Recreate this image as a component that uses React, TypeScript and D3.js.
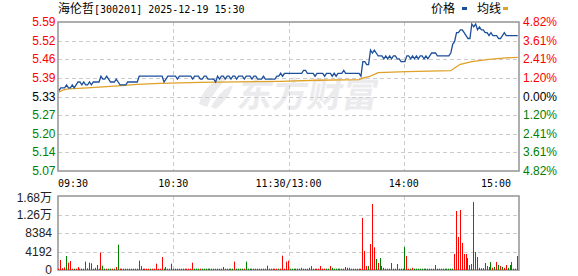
import React from 'react';
import * as d3 from 'd3';

const W = 578;
const H = 276;

// ---- data ----
const stockName = '海伦哲';
const stockCode = '[300201]';
const stamp = ' 2025-12-19 15:30';
const prevClose = 5.33;
const maxPct = 0.0482;

const priceTicks = ['5.59', '5.52', '5.46', '5.39', '5.33', '5.27', '5.20', '5.14', '5.07'];
const pctTicks = ['4.82%', '3.61%', '2.41%', '1.20%', '0.00%', '1.20%', '2.41%', '3.61%', '4.82%'];
const volTicks = ['1.68万', '1.26万', '8384', '4192', '0'];
const volMax = 16768;
const timeLabels = ['09:30', '10:30', '11:30/13:00', '14:00', '15:00'];

// minute prices 09:30..11:30 (0..120), 13:01..15:00 (121..240)
const prices = [
  5.35, 5.36, 5.36, 5.36, 5.37, 5.36, 5.36, 5.37, 5.36, 5.37,
  5.38, 5.38, 5.37, 5.38, 5.37, 5.37, 5.38, 5.37, 5.38, 5.38,
  5.38, 5.38, 5.40, 5.39, 5.39, 5.40, 5.39, 5.38, 5.38, 5.38,
  5.39, 5.38, 5.37, 5.37, 5.37, 5.37, 5.38, 5.38, 5.38, 5.38,
  5.38, 5.38, 5.40, 5.40, 5.40, 5.40, 5.40, 5.40, 5.40, 5.40,
  5.40, 5.40, 5.40, 5.40, 5.40, 5.38, 5.39, 5.40, 5.40, 5.40,
  5.40, 5.40, 5.39, 5.40, 5.40, 5.40, 5.40, 5.40, 5.40, 5.40,
  5.39, 5.40, 5.40, 5.40, 5.39, 5.39, 5.40, 5.40, 5.39, 5.39,
  5.39, 5.39, 5.38, 5.40, 5.39, 5.40, 5.40, 5.39, 5.40, 5.40,
  5.39, 5.40, 5.40, 5.39, 5.40, 5.40, 5.40, 5.39, 5.40, 5.40,
  5.40, 5.39, 5.40, 5.40, 5.39, 5.39, 5.39, 5.40, 5.39, 5.39,
  5.39, 5.39, 5.39, 5.39, 5.40, 5.40, 5.41, 5.40, 5.41, 5.41,
  5.41, 5.41, 5.41, 5.41, 5.41, 5.41, 5.41, 5.41, 5.42, 5.42,
  5.41, 5.41, 5.41, 5.41, 5.40, 5.41, 5.41, 5.41, 5.41, 5.40,
  5.41, 5.41, 5.41, 5.40, 5.41, 5.40, 5.41, 5.41, 5.41, 5.42,
  5.41, 5.41, 5.41, 5.41, 5.41, 5.41, 5.41, 5.41, 5.40, 5.45,
  5.45, 5.44, 5.44, 5.49, 5.48, 5.49, 5.48, 5.47, 5.47, 5.47,
  5.46, 5.47, 5.46, 5.47, 5.46, 5.47, 5.47, 5.46, 5.46, 5.45,
  5.45, 5.45, 5.47, 5.47, 5.46, 5.47, 5.46, 5.47, 5.46, 5.47,
  5.47, 5.46, 5.47, 5.46, 5.47, 5.48, 5.48, 5.48, 5.47, 5.47,
  5.47, 5.47, 5.47, 5.47, 5.47, 5.48, 5.51, 5.52, 5.55, 5.55,
  5.56, 5.56, 5.55, 5.54, 5.53, 5.53, 5.58, 5.57, 5.58, 5.56,
  5.57, 5.56, 5.56, 5.55, 5.55, 5.54, 5.55, 5.54, 5.54, 5.54,
  5.53, 5.53, 5.54, 5.55, 5.54, 5.54, 5.54, 5.54, 5.54, 5.54,
  5.54,
];

// average price line: minute index and value
const avgIdx = [0, 2, 5, 15, 29, 41, 53, 74, 116, 135, 157, 159, 163, 167, 182, 205, 207, 210, 216, 225, 234, 240];
const avgVal = [5.345, 5.352, 5.356, 5.36, 5.366, 5.372, 5.375, 5.379, 5.382, 5.386, 5.388, 5.393, 5.4, 5.412, 5.416, 5.419, 5.428, 5.441, 5.45, 5.458, 5.463, 5.465];

const volumes = [
  300, 2270, 400, 600, 3170, 1660, 2040, 300, 300, 300,
  680, 300, 300, 300, 1890, 400, 1660, 1510, 300, 500,
  1130, 300, 3930, 980, 300, 300, 300, 300, 300, 300,
  680, 5740, 300, 300, 300, 300, 300, 300, 300, 300,
  300, 300, 2115, 900, 300, 300, 300, 300, 300, 300,
  300, 1435, 300, 300, 2945, 300, 680, 300, 300, 1435,
  300, 300, 300, 300, 300, 300, 300, 300, 300, 300,
  1660, 300, 300, 300, 300, 300, 300, 300, 300, 300,
  300, 300, 300, 300, 300, 300, 680, 300, 300, 300,
  300, 300, 1890, 300, 300, 300, 300, 300, 1890, 300,
  300, 300, 300, 300, 300, 300, 300, 300, 300, 980,
  300, 300, 300, 300, 300, 300, 300, 3250, 300, 1900,
  2115, 300, 300, 300, 300, 300, 300, 500, 300, 300,
  300, 500, 900, 300, 300, 300, 300, 900, 300, 300,
  300, 300, 900, 500, 300, 300, 300, 300, 300, 300,
  680, 500, 500, 300, 300, 300, 300, 300, 300, 11780,
  4300, 900, 900, 5890, 14950, 5140, 2490, 1590, 2720, 900,
  500, 300, 300, 300, 1590, 300, 300, 1360, 300, 300,
  300, 5210, 3170, 300, 300, 500, 300, 300, 300, 300,
  300, 300, 300, 300, 300, 300, 300, 1130, 300, 300,
  300, 300, 300, 300, 300, 300, 300, 3630, 13370, 7480,
  13600, 6120, 3630, 3630, 2720, 1130, 1360, 15400, 4080, 2950,
  500, 400, 400, 1590, 900, 680, 1810, 500, 680, 1810,
  1130, 900, 680, 500, 1130, 500, 1130, 1810, 300, 300,
  3170,
];
// r = up tick, g = down tick
const volDir =
  'rrrrgrrrgr' + 'rgggrrggrr' + 'rgrggrggrg' + 'rgrrgrrgrr' + 'rrrgrrrrgr' +
  'rrrrrgrrrg' + 'grrrrrrrrr' + 'rgggrggggrg'.slice(0, 10) + 'ggrrggrggg' + 'ggrggggrgg' +
  'gggggggggr' + 'rrrrrgrrrr' + 'rggggggrrr' + 'rgrrrrrrrr' + 'ggrgggggrr' +
  'rgrrrrrrrr' + 'rrgrrrgrgr' + 'rgggrgrrrg' + 'ggrrgrgggg' + 'gggggggrgg' +
  'gggggggrrr' + 'rrrrggrrgr' + 'grrggrgrgr' + 'grgrrggrrg' + 'r';

// ---- layout ----
const L = 58;
const R = 519;
const mainTop = 22;
const mainBot = 171;
const volTop = 196;
const volBot = 270;

const RED = '#ff0000';
const GREEN = '#008000';
const BLUE = '#1b4f9c';
const GOLD = '#dfa126';
const GRID = '#cccccc';
const BORDER = '#9a9a9a';
const NUM_FONT = '"Liberation Sans", Arial, "Noto Sans CJK SC", sans-serif';
const CJK_FONT = '"Noto Sans CJK SC", "Liberation Sans", sans-serif';
const MONO_FONT = '"DejaVu Sans Mono", "Liberation Mono", monospace';

export default function App() {
  const xs = d3.scaleLinear().domain([0, 240]).range([58.4, 517.2]);
  const yP = d3
    .scaleLinear()
    .domain([prevClose * (1 - maxPct), prevClose * (1 + maxPct)])
    .range([mainBot, mainTop]);
  const yV = d3.scaleLinear().domain([0, volMax]).range([volBot, volTop]);

  const priceLine = d3
    .line<number>()
    .x((_, i) => xs(i) + 0.5)
    .y((d) => yP(d))(prices) as string;
  const avgLine = d3
    .line<number>()
    .x((_, i) => xs(avgIdx[i]) + 0.5)
    .y((d) => yP(d))(avgVal) as string;

  const rowsMain = d3.range(priceTicks.length).map((k) => mainTop + (k * (mainBot - mainTop)) / (priceTicks.length - 1));
  const rowsVol = d3.range(volTicks.length).map((k) => volTop + (k * (volBot - volTop)) / (volTicks.length - 1));
  const cols = [1, 2, 3].map((k) => Math.round(L + (k * (R - L)) / 4) + 0.5);
  const labelX = [L, L + (R - L) / 4, L + (R - L) / 2, L + (3 * (R - L)) / 4, 511];
  const labelAnchor = ['start', 'middle', 'middle', 'middle', 'end'];

  const tickColor = (k: number) => (k < 4 ? RED : k === 4 ? '#000' : GREEN);

  return (
    <svg
      width={W}
      height={H}
      style={{ position: 'absolute', left: 0, top: 0, background: '#fff' }}
    >
      <rect x={0} y={0} width={W} height={H} fill="#fff" />

      {/* watermark */}
      <g fill="#ebebee">
        <path d="M199,104 C203,88 214,79 229,76 C222,83 213,93 207,107 Z" />
        <path d="M211,107 C217,95 225,88 233,85 C231,94 224,102 216,109 Z" />
        <text
          transform="translate(236,107) skewX(-10)"
          fontSize={35}
          fontWeight={700}
          fontFamily={CJK_FONT}
        >
          东方财富
        </text>
      </g>

      {/* grids */}
      <g stroke={GRID} strokeWidth={1} strokeDasharray="4,3" fill="none">
        {rowsMain.slice(1, -1).map((y, k) => (
          <line key={'m' + k} x1={L} x2={R} y1={Math.round(y) + 0.5} y2={Math.round(y) + 0.5} />
        ))}
        {rowsVol.slice(1, -1).map((y, k) => (
          <line key={'v' + k} x1={L} x2={R} y1={Math.round(y) + 0.5} y2={Math.round(y) + 0.5} />
        ))}
        {cols.map((x, k) => (
          <g key={'c' + k}>
            <line x1={x} x2={x} y1={mainTop} y2={mainBot} />
            <line x1={x} x2={x} y1={volTop} y2={volBot} />
          </g>
        ))}
      </g>

      {/* borders */}
      <rect x={L} y={mainTop} width={R - L} height={mainBot - mainTop} fill="none" stroke={BORDER} strokeWidth={1.6} />
      <rect x={L} y={volTop} width={R - L} height={volBot - volTop} fill="none" stroke={BORDER} strokeWidth={1.6} />

      {/* lines */}
      <path d={avgLine} fill="none" stroke={GOLD} strokeWidth={1.3} />
      <path d={priceLine} fill="none" stroke={BLUE} strokeWidth={1.3} />

      {/* volume bars */}
      {volumes.map((v, i) => (
        <rect
          key={i}
          x={Math.round(xs(i))}
          y={yV(v)}
          width={1}
          height={volBot - yV(v)}
          fill={volDir[i] === 'g' ? GREEN : RED}
        />
      ))}

      {/* title */}
      <text x={L} y={13} fontSize={12} fill="#000">
        <tspan fontFamily={CJK_FONT}>{stockName}</tspan>
        <tspan fontFamily={MONO_FONT} fontSize={10}>
          {stockCode + stamp}
        </tspan>
      </text>

      {/* legend */}
      <text x={431} y={13} fontSize={12} fontFamily={CJK_FONT} fill="#000">
        价格
      </text>
      <rect x={462} y={7} width={5} height={3} fill={BLUE} />
      <text x={477} y={13} fontSize={12} fontFamily={CJK_FONT} fill="#000">
        均线
      </text>
      <rect x={503} y={7} width={5} height={3} fill={GOLD} />

      {/* price axis */}
      {priceTicks.map((t, k) => (
        <text key={'p' + k} x={55.5} y={rowsMain[k] + 4} textAnchor="end" fontSize={12} fontFamily={NUM_FONT} fill={tickColor(k)}>
          {t}
        </text>
      ))}
      {pctTicks.map((t, k) => (
        <text key={'q' + k} x={523} y={rowsMain[k] + 4} fontSize={12} fontFamily={NUM_FONT} fill={tickColor(k)}>
          {t}
        </text>
      ))}

      {/* time axis */}
      {timeLabels.map((t, k) => (
        <text
          key={'t' + k}
          x={labelX[k]}
          y={187}
          textAnchor={labelAnchor[k] as any}
          fontSize={10}
          fontFamily={MONO_FONT}
          fill="#000"
        >
          {t}
        </text>
      ))}

      {/* volume axis */}
      {volTicks.map((t, k) => (
        <text
          key={'v' + k}
          x={52}
          y={rowsVol[k] + (k === 0 ? 6 : 4)}
          textAnchor="end"
          fontSize={12}
          fontFamily={NUM_FONT}
          fill="#222"
        >
          {t}
        </text>
      ))}
    </svg>
  );
}
